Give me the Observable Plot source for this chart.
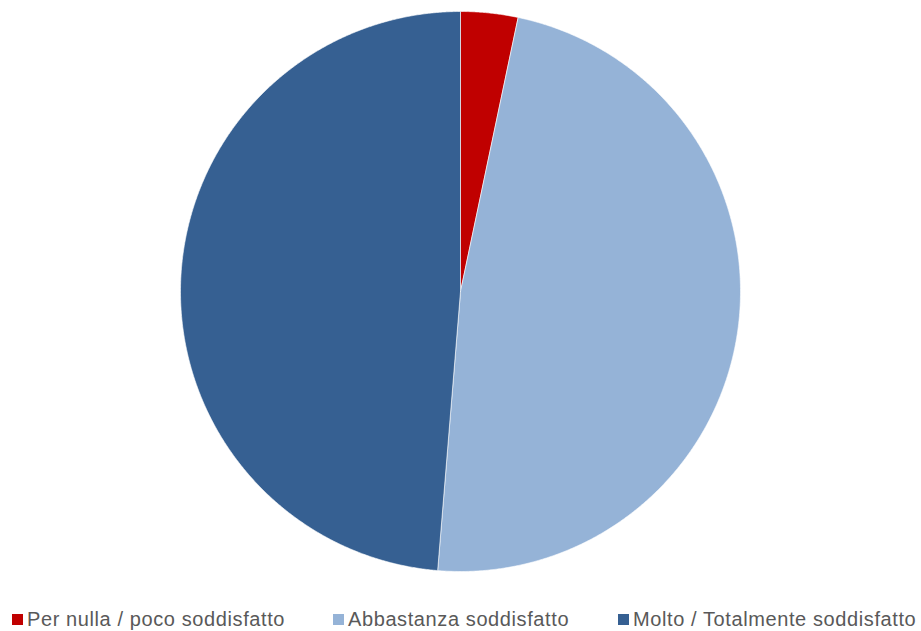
<!DOCTYPE html>
<html>
<head>
<meta charset="utf-8">
<script src="https://cdn.jsdelivr.net/npm/d3@7"></script>
<script src="https://cdn.jsdelivr.net/npm/@observablehq/plot@0.6"></script>
<style>
  html, body { margin: 0; padding: 0; background: #fff; }
  #wrap { position: relative; width: 921px; height: 631px; font-family: "Liberation Sans", Arial, sans-serif; }
  .leg { position: absolute; top: 607px; height: 24px; display: flex; align-items: center; font-size: 20px; letter-spacing: 0.6px; color: #595959; white-space: nowrap; line-height: 24px; }
  .sw { width: 11px; height: 11px; margin-right: 4px; margin-top: 1px; }
</style>
</head>
<body>
<div id="wrap"></div>
<script>
const categories = ["Per nulla / poco soddisfatto", "Abbastanza soddisfatto", "Molto / Totalmente soddisfatto"];
const values = [3.3, 48.0, 48.7];
const colors = ["#C00000", "#95B3D7", "#366092"];
const legendLeft = [12, 333, 618];

const arcs = d3.pie().sort(null).startAngle(0).endAngle(2 * Math.PI)(values);
const pts = [];
arcs.forEach((a, i) => {
  const n = Math.max(4, Math.ceil((a.endAngle - a.startAngle) / 0.005));
  pts.push({slice: categories[i], x: 0, y: 0});
  for (let k = 0; k <= n; k++) {
    const t = a.startAngle + (a.endAngle - a.startAngle) * k / n;
    pts.push({slice: categories[i], x: Math.sin(t), y: Math.cos(t)});
  }
  pts.push({slice: categories[i], x: 0, y: 0});
});

const chart = Plot.plot({
  width: 921,
  height: 600,
  marginLeft: 180,
  marginRight: 181,
  marginTop: 11,
  marginBottom: 29,
  x: {domain: [-1, 1], axis: null},
  y: {domain: [-1, 1], axis: null},
  color: {domain: categories, range: colors},
  marks: [
    Plot.line(pts, {x: "x", y: "y", z: "slice", fill: "slice", stroke: "white", strokeWidth: 0.6, curve: "linear"})
  ]
});
const wrap = document.getElementById("wrap");
wrap.appendChild(chart);

categories.forEach((c, i) => {
  const d = document.createElement("div");
  d.className = "leg";
  d.style.left = legendLeft[i] + "px";
  const s = document.createElement("span");
  s.className = "sw";
  s.style.background = colors[i];
  d.appendChild(s);
  d.appendChild(document.createTextNode(c));
  wrap.appendChild(d);
});
</script>
</body>
</html>
